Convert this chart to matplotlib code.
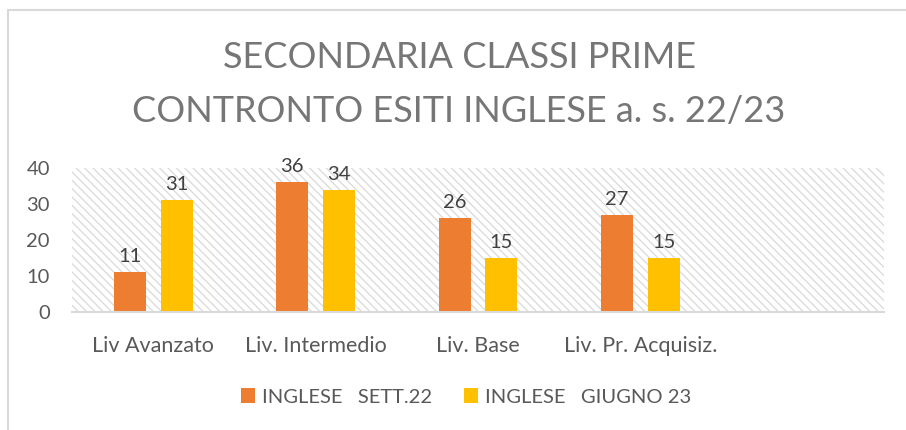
import matplotlib
matplotlib.use("Agg")
import matplotlib.pyplot as plt
from matplotlib.patches import Patch
from matplotlib.lines import Line2D
import numpy as np

categories = ["Liv Avanzato", "Liv. Intermedio", "Liv. Base", "Liv. Pr. Acquisiz.", ""]
sett22 = [11, 36, 26, 27]
giugno23 = [31, 34, 15, 15]
series_names = ["INGLESE   SETT.22", "INGLESE   GIUGNO 23"]
colors = ["#ED7D31", "#FFC000"]
yticks = [0, 10, 20, 30, 40]
title_lines = ["SECONDARIA CLASSI PRIME", "CONTRONTO ESITI INGLESE a. s. 22/23"]

plt.rcParams['font.family'] = ['Lato', 'DejaVu Sans']
plt.rcParams['hatch.color'] = '#d9d9d9'
plt.rcParams['hatch.linewidth'] = 0.9

fig = plt.figure(figsize=(9.06, 4.30), dpi=100)
ax = fig.add_axes([72/906, 1-312/430, (884-72)/906, (312-168)/430])

x = np.arange(len(categories))
bw = 0.197
off = 0.144
ax.patch.set_facecolor('white')
ax.patch.set_hatch('\\\\\\\\')
ax.patch.set_edgecolor('#d9d9d9')
ax.patch.set_linewidth(0)

for vals, c, dx in [(sett22, colors[0], -off), (giugno23, colors[1], off)]:
    xs = x[:len(vals)] + dx
    ax.bar(xs, vals, width=bw, color=c, zorder=3, linewidth=0)
    for xi, v in zip(xs, vals):
        ax.annotate(str(v), (xi, v), xytext=(0, 5), textcoords='offset points',
                    ha='center', va='bottom', fontsize=14.5, color='#404040')

ax.set_xlim(-0.5, len(categories) - 0.5)
ax.set_ylim(0, 40)
ax.set_yticks(yticks)
ax.set_xticks(x)
ax.set_xticklabels(categories)
ax.tick_params(axis='both', length=0, labelcolor='#595959')
ax.tick_params(axis='x', pad=17, labelsize=15.5)
ax.tick_params(axis='y', pad=16, labelsize=14.5)
for s in ['top', 'right', 'left']:
    ax.spines[s].set_visible(False)
ax.spines['bottom'].set_color('#d9d9d9')
ax.spines['bottom'].set_linewidth(1.5)
ax.spines['bottom'].set_zorder(4)

fig.text(459/906, 1-58/430, title_lines[0], ha='center', va='center', fontsize=26, color='#767676')
fig.text(459/906, 1-111/430, title_lines[1], ha='center', va='center', fontsize=26, color='#767676')

handles = [Patch(facecolor=colors[0], edgecolor='none'),
           Patch(facecolor=colors[1], edgecolor='none')]
fig.legend(handles, series_names, loc='center', bbox_to_anchor=(466/906, 1-397/430),
           ncol=2, frameon=False, fontsize=14.5, labelcolor='#595959',
           handlelength=0.7, handleheight=0.7, handletextpad=0.35, columnspacing=1.6)

# chart border (top and left visible)
fig.add_artist(Line2D([7.5/906, 1], [1-10/430, 1-10/430], color='#d9d9d9', lw=1.5, transform=fig.transFigure))
fig.add_artist(Line2D([7.5/906, 7.5/906], [0, 1-10/430], color='#d9d9d9', lw=1.5, transform=fig.transFigure))

fig.savefig("out.png", dpi=100, facecolor='white')
